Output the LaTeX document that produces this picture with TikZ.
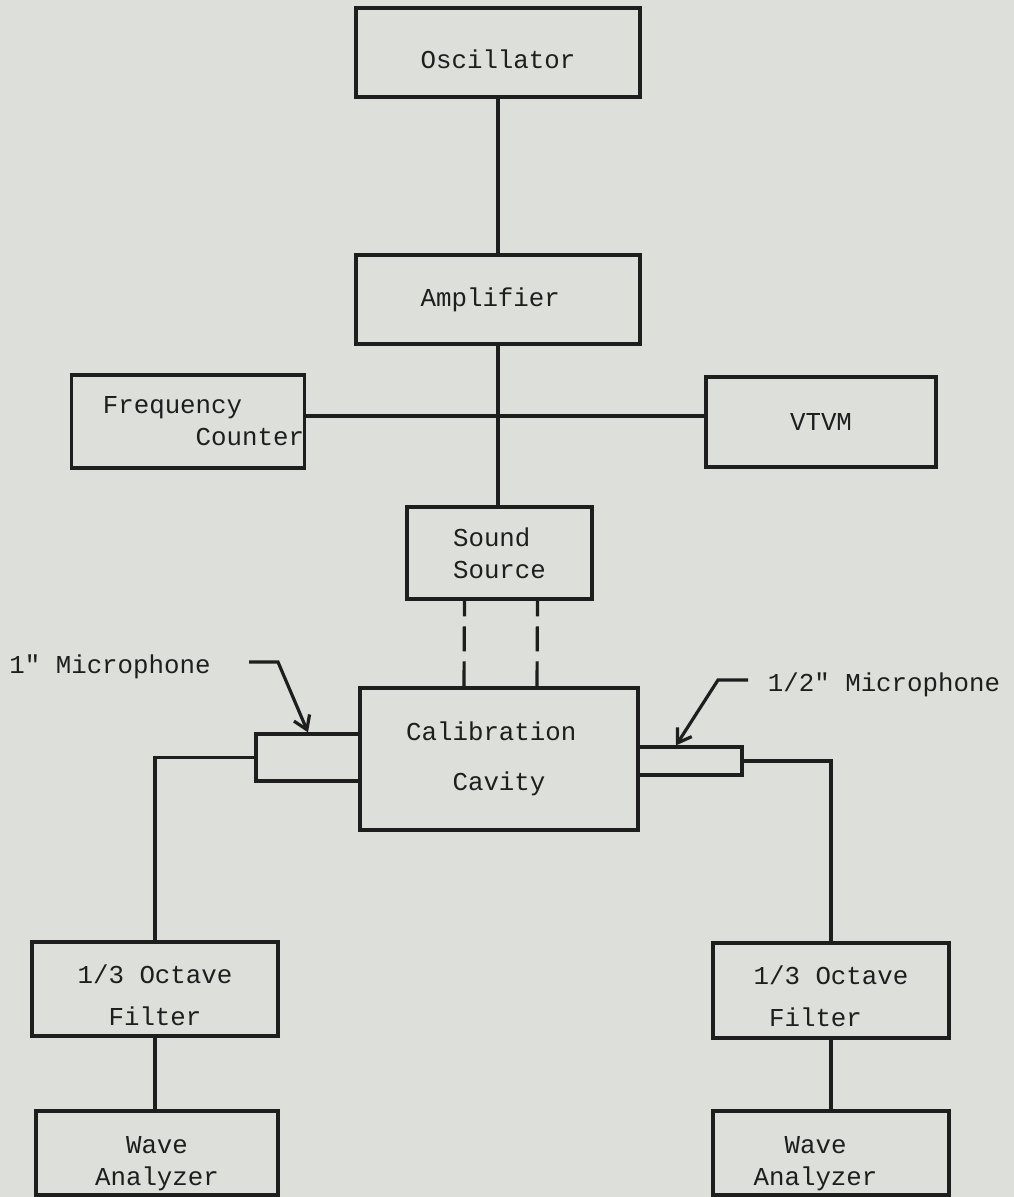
\documentclass[tikz,border=0pt]{standalone}
\usepackage{fontspec}
\setmonofont{Liberation Mono}
\usetikzlibrary{arrows.meta}
\definecolor{paperColor}{RGB}{221,223,218}
\definecolor{inkColor}{RGB}{30,30,30}

\begin{document}
\begin{tikzpicture}[x=1pt,y=-1pt]

          \tikzstyle{unitNode} = [draw=inkColor, line width=3.2pt, text=inkColor, inner sep=0pt, align=center, font=\ttfamily\fontsize{25.8}{32}\selectfont];
          \tikzstyle{labelNode} = [text=inkColor, inner sep=0pt, font=\ttfamily\fontsize{25.8}{32}\selectfont];

          \tikzstyle{wireEdge} = [line width=3.2pt, inkColor];
          \tikzstyle{dashEdge} = [line width=3.2pt, inkColor, dash pattern=on 25pt off 10pt];
          \tikzstyle{leadEdge} = [line width=3.2pt, inkColor, -{Straight Barb[length=13pt,width=17pt]}];

          \useasboundingbox (0,0) rectangle (1014,1197);
          \fill[paperColor] (0,0) rectangle (1014,1197);

          \node[unitNode, minimum width=284pt, minimum height=89pt] (osc) at (498,52.5) {\rule{0pt}{33pt}Oscillator};
          \node[unitNode, minimum width=284pt, minimum height=89pt] (amp) at (498,299.5) {Amplifier\phantom{x}};
          \node[unitNode, minimum width=232pt, minimum height=93pt, align=left] (freq) at (188,421.5) {\phantom{xx}Frequency\\\phantom{xxxxxxxx}Counter};
          \node[unitNode, minimum width=230pt, minimum height=90pt] (vtvm) at (821,422) {VTVM};
          \node[unitNode, minimum width=185pt, minimum height=92pt, align=left] (src) at (499.5,553) {Sound\\Source};
          \node[unitNode, minimum width=278pt, minimum height=142pt] (cav) at (499,759) {Calibration\phantom{x}\\[18pt]Cavity};
          \node[unitNode, minimum width=104pt, minimum height=47pt] (micOne) at (308,757.5) {};
          \node[unitNode, minimum width=104pt, minimum height=28pt] (micHalf) at (690,761) {};
          \node[unitNode, minimum width=246pt, minimum height=94pt] (filtL) at (155,989) {\rule{0pt}{31pt}1/3 Octave\\[10pt]Filter};
          \node[unitNode, minimum width=236pt, minimum height=95pt] (filtR) at (831,990.5) {\rule{0pt}{31pt}1/3 Octave\\[10pt]Filter\phantom{xx}};
          \node[unitNode, minimum width=242pt, minimum height=84pt] (waveL) at (157,1153) {\rule{0pt}{39pt}Wave\\Analyzer};
          \node[unitNode, minimum width=236pt, minimum height=84pt] (waveR) at (831,1153) {\rule{0pt}{39pt}Wave\phantom{xx}\\Analyzer\phantom{xx}};

          \node[labelNode] (micOneLabel) at (110,667) {1" Microphone};
          \node[labelNode] (micHalfLabel) at (884,685) {1/2" Microphone};

          \coordinate (tee) at (499,416);
          \coordinate (micOneBend) at (278,662);
          \coordinate (micHalfBend) at (718,680);

          \draw[wireEdge] (osc.south) -- (osc.south |- amp.north);
          \draw[wireEdge] (amp.south) -- (amp.south |- src.north);
          \draw[wireEdge] (freq.east |- tee) -- (vtvm.west |- tee);
          \draw[dashEdge] ([xshift=-35pt]cav.north) -- ([xshift=-35pt]src.south);
          \draw[dashEdge] ([xshift=38pt]cav.north) -- ([xshift=38pt]src.south);
          \draw[wireEdge] (micOne.west) -| (filtL.north);
          \draw[wireEdge] (micHalf.east) -| (filtR.north);
          \draw[wireEdge] (filtL.south) -- (filtL.south |- waveL.north);
          \draw[wireEdge] (filtR.south) -- (filtR.south |- waveR.north);
          \draw[leadEdge] ([xshift=-29pt]micOneBend) -- (micOneBend) -- (micOne.north);
          \draw[leadEdge] ([xshift=30pt]micHalfBend) -- (micHalfBend) -- ([xshift=-14pt]micHalf.north);
        \end{tikzpicture}
\end{document}
